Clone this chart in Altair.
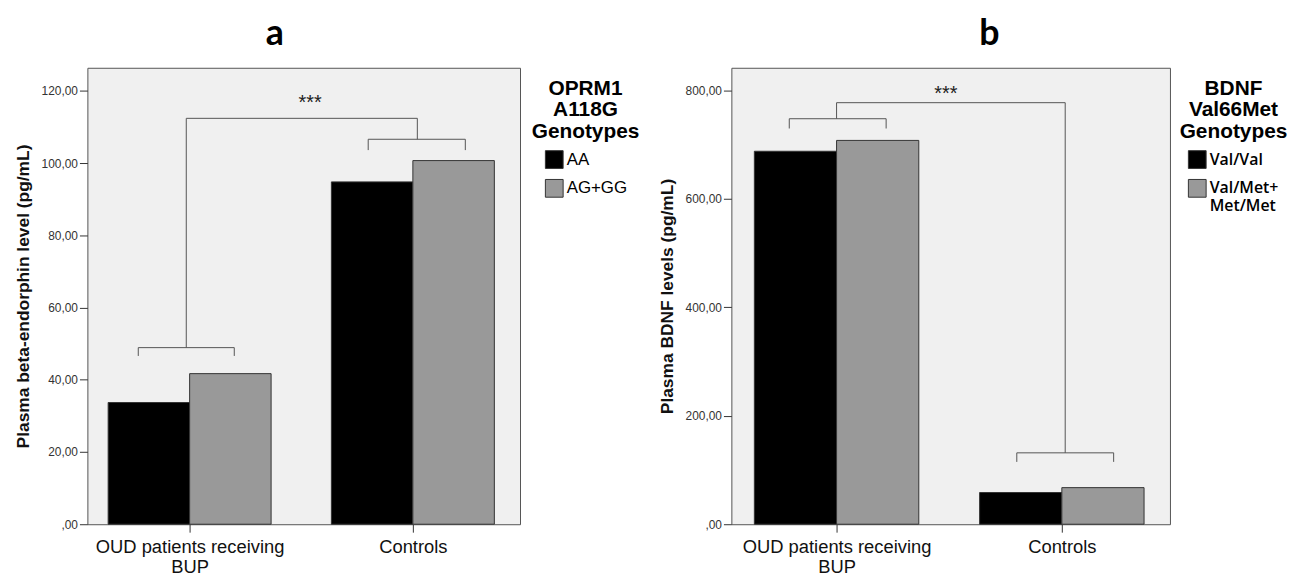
import json
import altair as alt
import pandas as pd

# ---------------- data ----------------
groups = ["OUD patients receiving|BUP", "Controls"]
group_pos = [0, 1]

a_genotypes = ["AA", "AG+GG"]
a_values_AA = [33.7, 94.8]
a_values_AGGG = [41.7, 100.7]

b_genotypes = ["Val/Val", "Val/Met+|Met/Met"]
b_values_ValVal = [688.0, 58.5]
b_values_ValMet = [708.0, 67.5]

a_yticks = [0, 20, 40, 60, 80, 100, 120]
b_yticks = [0, 200, 400, 600, 800]

# significance brackets (data units)
a_br_x = [-0.23, 0.80]
a_br_x2 = [0.20, 1.235]
a_br_y = [48.9, 106.6]
a_br_leg = [46.6, 103.6]
a_link_x = [-0.015, 1.02]
a_link_y = 112.4
a_star = [0.54, 116.5]

b_br_x = [-0.21, 0.80]
b_br_x2 = [0.22, 1.23]
b_br_y = [748.0, 131.7]
b_br_leg = [730.0, 115.0]
b_link_x = [0.0, 1.015]
b_link_y = 777.6
b_star = [0.485, 794.0]

colors = ["#000000", "#999999"]
BAR_W = 0.365


def bars_table(genotypes, v0, v1):
    rows = []
    for i, p in enumerate(group_pos):
        rows.append({"genotype": genotypes[0], "x": p - BAR_W, "x2": p, "v": v0[i], "o": 0})
        rows.append({"genotype": genotypes[1], "x": p, "x2": p + BAR_W, "v": v1[i], "o": 1})
    return pd.DataFrame(rows)


def seg_table(bx, bx2, by, bleg, lx, ly):
    segs = []
    for i in range(2):
        segs.append({"x": bx[i], "x2": bx2[i], "y": by[i], "y2": by[i]})
        segs.append({"x": bx[i], "x2": bx[i], "y": by[i], "y2": bleg[i]})
        segs.append({"x": bx2[i], "x2": bx2[i], "y": by[i], "y2": bleg[i]})
        segs.append({"x": lx[i], "x2": lx[i], "y": ly, "y2": by[i]})
    segs.append({"x": lx[0], "x2": lx[1], "y": ly, "y2": ly})
    return pd.DataFrame(segs)


XLABEL_EXPR = "split(" + json.dumps(groups) + "[round(datum.value)], '|')"
YLABEL_EXPR = "datum.value == 0 ? ',00' : replace(format(datum.value, '.2f'), '.', ',')"


def panel(title, title_dx, bars, segs, star, ytitle, ytitle_size, ydomain, yticks,
          xdomain, width, genotypes, legend_title, legend_x, label_font,
          label_size, label_weight):
    xscale = alt.Scale(domain=xdomain, nice=False, zero=False)
    yscale = alt.Scale(domain=ydomain, nice=False, zero=True)
    xaxis = alt.Axis(values=group_pos, labelExpr=XLABEL_EXPR, title=None,
                     grid=False, domain=False, tickSize=8, tickColor="#333",
                     labelFont="Liberation Sans", labelFontSize=18.5,
                     labelColor="#111", labelLineHeight=20, labelPadding=6,
                     labelAngle=0, labelLimit=400)
    yaxis = alt.Axis(values=yticks, labelExpr=YLABEL_EXPR, title=ytitle,
                     grid=False, domain=False, tickSize=8, tickColor="#333",
                     labelFont="Liberation Sans", labelFontSize=12,
                     labelColor="#333", labelPadding=2,
                     titleFont="Liberation Sans", titleFontSize=ytitle_size,
                     titleFontWeight="bold", titleColor="#111",
                     titlePadding=9)

    bar_layer = alt.Chart(bars).mark_bar(stroke="#333", strokeWidth=1).encode(
        x=alt.X("x:Q", scale=xscale, axis=xaxis),
        x2="x2:Q",
        y=alt.Y("v:Q", scale=yscale, axis=yaxis),
        y2=alt.datum(0),
        color=alt.Color(
            "genotype:N",
            scale=alt.Scale(domain=genotypes, range=colors),
            legend=alt.Legend(
                orient="none", legendX=legend_x, legendY=10,
                title=legend_title, titleFont="Liberation Sans",
                titleFontSize=21, titleFontWeight="bold", titleColor="#000",
                titleAnchor="middle", titleAlign="center", titleLineHeight=22,
                titlePadding=8,
                symbolType="square", symbolSize=320, symbolStrokeColor="#333",
                symbolStrokeWidth=1, symbolOpacity=1,
                labelExpr="split(datum.label, '|')",
                labelFont=label_font, labelFontSize=label_size,
                labelFontWeight=label_weight, labelColor="#000",
                labelOffset=3, rowPadding=6,
            ),
        ),
        order="o:Q",
    )

    seg_layer = alt.Chart(segs).mark_rule(color="#555", strokeWidth=1).encode(
        x=alt.X("x:Q", scale=xscale), x2="x2:Q",
        y=alt.Y("y:Q", scale=yscale), y2="y2:Q",
    )

    star_df = pd.DataFrame({"x": [star[0]], "y": [star[1]], "t": ["***"]})
    star_layer = alt.Chart(star_df).mark_text(
        fontSize=20, font="Liberation Sans", color="#222", baseline="middle",
        align="center").encode(
        x=alt.X("x:Q", scale=xscale), y=alt.Y("y:Q", scale=yscale), text="t:N")

    return alt.layer(bar_layer, seg_layer, star_layer).properties(
        width=width, height=460,
        title=alt.TitleParams(title, font="Lato", fontSize=36, fontWeight="bold",
                              color="#000", anchor="middle", frame="group",
                              dx=title_dx, baseline="bottom", offset=-21),
    )


left = panel("a", -29,
             bars_table(a_genotypes, a_values_AA, a_values_AGGG),
             seg_table(a_br_x, a_br_x2, a_br_y, a_br_leg, a_link_x, a_link_y),
             a_star, "Plasma beta-endorphin level (pg/mL)", 17.5, [0, 126.4],
             a_yticks, [-0.458, 1.48], 436, a_genotypes,
             ["OPRM1", "A118G", "Genotypes"], 448,
             "Liberation Sans", 17, "normal")

right = panel("b", 39,
              bars_table(b_genotypes, b_values_ValVal, b_values_ValMet),
              seg_table(b_br_x, b_br_x2, b_br_y, b_br_leg, b_link_x, b_link_y),
              b_star, "Plasma BDNF levels (pg/mL)", 17.5, [0, 842],
              b_yticks, [-0.467, 1.48], 442, b_genotypes,
              ["BDNF", "Val66Met", "Genotypes"], 452,
              "Open Sans", 16, 600)

chart = alt.hconcat(left, right, spacing=16).resolve_scale(
    color="independent", x="independent", y="independent"
).configure(background="white").configure_view(
    fill="#f0f0f0", stroke="#555", strokeWidth=1)

chart.save("out.html", embed_options={"renderer": "svg", "actions": False})
